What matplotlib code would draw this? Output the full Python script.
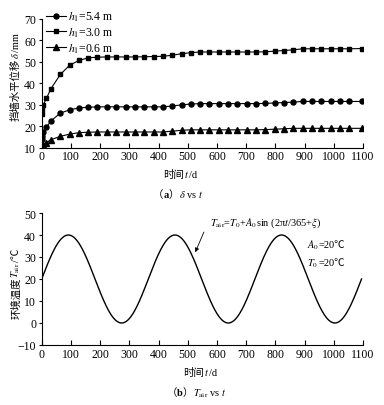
import numpy as np
import matplotlib
matplotlib.use('Agg')
import matplotlib.pyplot as plt
from matplotlib.transforms import IdentityTransform

plt.rcParams['font.family'] = ['Liberation Serif', 'Noto Sans CJK SC']
plt.rcParams['mathtext.fontset'] = 'stix'

# (a) displacement vs time
t_days = [0, 2, 5, 16, 32, 64, 96, 128, 160, 191, 223, 255, 287, 319, 351, 383,
          415, 447, 479, 510, 542, 574, 606, 638, 670, 702, 734, 766, 798, 829,
          861, 893, 925, 957, 989, 1021, 1053, 1095]
d_54 = [14.0, 15.6, 17.2, 19.5, 22.5, 26.1, 27.6, 28.5, 28.8, 29.0, 29.0, 29.0,
        29.0, 29.0, 29.0, 29.0, 29.0, 29.4, 29.9, 30.3, 30.5, 30.5, 30.5, 30.5,
        30.5, 30.5, 30.5, 30.6, 30.8, 31.0, 31.2, 31.5, 31.5, 31.5, 31.5, 31.5,
        31.5, 31.5]
d_30 = [25.6, 27.9, 29.8, 32.9, 37.5, 44.1, 48.4, 50.6, 51.8, 52.1, 52.2, 52.2,
        52.2, 52.2, 52.3, 52.4, 52.5, 53.0, 53.7, 54.2, 54.5, 54.5, 54.5, 54.5,
        54.5, 54.5, 54.5, 54.6, 54.9, 55.2, 55.5, 56.0, 56.0, 56.0, 56.0, 56.0,
        56.0, 56.1]
d_06 = [10.2, 10.8, 11.4, 12.4, 13.7, 15.3, 16.3, 17.0, 17.2, 17.3, 17.3, 17.3,
        17.3, 17.3, 17.3, 17.3, 17.3, 17.7, 18.1, 18.3, 18.3, 18.3, 18.3, 18.3,
        18.3, 18.3, 18.3, 18.4, 18.6, 18.8, 19.0, 19.0, 19.0, 19.0, 19.0, 19.0,
        19.0, 19.0]
labels = [r'$h_1$=5.4 m', r'$h_1$=3.0 m', r'$h_1$=0.6 m']

# (b) air temperature, as printed on the chart
A0 = 20.0
T0 = 20.0
period = 365.0
xi = 0.0
t_end = 1095

xticks = list(range(0, 1101, 100))

W, H = 384, 406
fig = plt.figure(figsize=(W / 100, H / 100), dpi=100)
ax1 = fig.add_axes([0.1086, 0.6338, 0.8367, 0.3177])
ax2 = fig.add_axes([0.1086, 0.1478, 0.8367, 0.3251])

fs = 8.5
cfs = 7.5


def put_pieces(x, y, pieces, rotation=0, size=cfs):
    # mathtext has no font fallback, so Chinese and math parts are drawn
    # as separate texts placed one after another (x, y: pixels from top-left,
    # centre of the label on its baseline)
    renderer = fig.canvas.get_renderer()
    texts = []
    for s, kw in pieces:
        texts.append(fig.text(0, 0, s, fontsize=size, rotation=rotation,
                              rotation_mode='anchor', ha='left', va='baseline',
                              transform=IdentityTransform(), **kw))
    sizes = []
    for t in texts:
        bb = t.get_window_extent(renderer)
        sizes.append(bb.height if rotation == 90 else bb.width)
    pos = -sum(sizes) / 2
    for t, s in zip(texts, sizes):
        if rotation == 90:
            t.set_position((x, H - y + pos))
        else:
            t.set_position((x + pos, H - y))
        pos += s


for ax in (ax1, ax2):
    ax.spines['top'].set_visible(False)
    ax.spines['right'].set_visible(False)
    ax.spines['left'].set_linewidth(0.8)
    ax.spines['bottom'].set_linewidth(0.8)
    ax.set_xlim(0, 1100)
    ax.set_xticks(xticks)
    ax.tick_params(axis='x', direction='in', length=3.5, width=0.8, labelsize=fs, pad=2)
    ax.tick_params(axis='y', direction='out', length=2.5, width=0.8, labelsize=fs, pad=1.5)

ax1.plot(t_days, d_54, '-o', color='black', lw=0.8, ms=3.6, label=labels[0])
ax1.plot(t_days, d_30, '-s', color='black', lw=0.8, ms=3.4, label=labels[1])
ax1.plot(t_days, d_06, '-^', color='black', lw=0.8, ms=3.8, label=labels[2])
ax1.set_ylim(10, 70)
ax1.set_yticks(range(10, 71, 10))
ax1.legend(loc='upper left', bbox_to_anchor=(0.012, 1.07), frameon=False,
           fontsize=fs, handlelength=1.7, handletextpad=0.2, labelspacing=0.2,
           borderpad=0, borderaxespad=0)

tt = np.linspace(0, t_end, 600)
temp = T0 + A0 * np.sin(2 * np.pi * tt / period + xi)
ax2.plot(tt, temp, color='black', lw=1.0)
ax2.set_ylim(-10, 50)
ax2.set_yticks(range(-10, 51, 10))
ax2.annotate('', xy=(522, 31), xytext=(559, 42.5),
             arrowprops=dict(arrowstyle='-|>', color='black', lw=0.6,
                             mutation_scale=6))
ax2.text(576, 45.9, r'$T_{\mathrm{air}}$=$T_0$+$A_0$sin (2π$t$/365+$\xi$)',
         ha='left', va='center', fontsize=cfs)

put_pieces(19, 77, [('挡墙水平位移', {}), (r'$\delta$', {}), ('/mm', {})], rotation=90)
put_pieces(19, 284, [('环境温度', {}), (r'$T_{\mathrm{air}}$', {}), ('/℃', {})], rotation=90)
put_pieces(180, 178.5, [('时间', {}), (r'$t$', {}), ('/d', {})])
put_pieces(200, 376.5, [('时间', {}), (r'$t$', {}), ('/d', {})])
put_pieces(178, 198.5, [('（', {}), ('a', {'weight': 'bold'}), ('）', {}),
                        (r'$\delta$ vs $t$', {})])
put_pieces(196.5, 396.5, [('（', {}), ('b', {'weight': 'bold'}), ('）', {}),
                          (r'$T_{\mathrm{air}}$ vs $t$', {})])
put_pieces(326, 248.5, [(r'$A_0$', {}), ('=20℃', {})])
put_pieces(326, 266.5, [(r'$T_0$', {}), ('=20℃', {})])

fig.savefig('out.png', dpi=100)
